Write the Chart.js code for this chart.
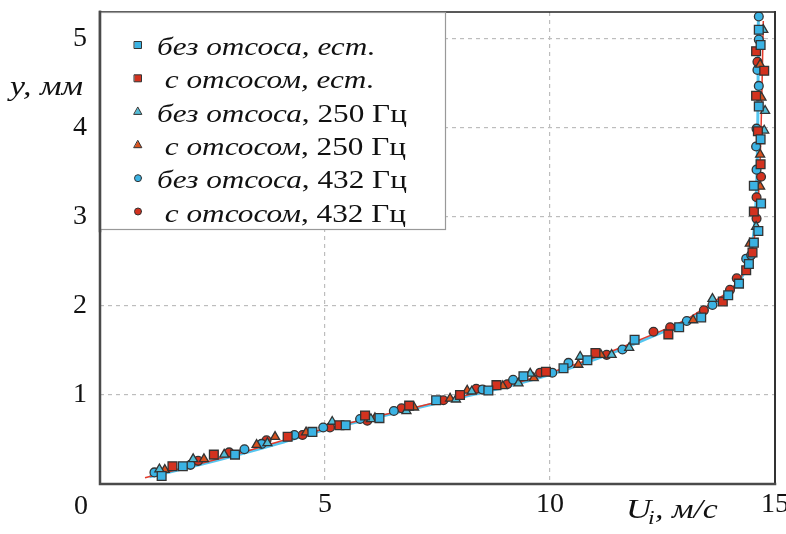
<!DOCTYPE html>
<html>
<head>
<meta charset="utf-8">
<script src="https://cdn.jsdelivr.net/npm/chart.js@4/dist/chart.umd.min.js"></script>
<style>
  body { margin: 0; background: #fff; }
  canvas { display: block; }
</style>
</head>
<body>
<canvas id="profileChart" width="786" height="534"></canvas>
<script>
// Профиль скорости: U (м/с) по оси x, y (мм) по оси y

const seriesLabels = [
  [['без отсоса, ест.', true]],
  [[' с отсосом, ест.', true]],
  [['без отсоса', true], [', 250 Гц', false]],
  [[' с отсосом', true], [', 250 Гц', false]],
  [['без отсоса', true], [', 432 Гц', false]],
  [[' с отсосом', true], [', 432 Гц', false]]
];

const xTicks = [0, 5, 10, 15];
const yTicks = [0, 1, 2, 3, 4, 5];

// без отсоса, естественный
const bezEstU = [1.37, 1.84, 3.0, 4.72, 5.46, 6.21, 7.47, 8.63, 9.41, 10.3, 10.83, 11.88, 12.87, 13.36, 13.96, 14.2, 14.42, 14.53, 14.63, 14.69, 14.53, 14.68, 14.64, 14.68, 14.64];
const bezEstY = [0.09, 0.2, 0.33, 0.585, 0.66, 0.74, 0.94, 1.05, 1.21, 1.3, 1.39, 1.62, 1.76, 1.87, 2.12, 2.25, 2.47, 2.71, 2.84, 3.15, 3.35, 3.87, 4.24, 4.93, 5.1];

// с отсосом, естественный
const sEstU = [1.61, 2.53, 4.17, 5.32, 5.89, 6.87, 8.0, 8.81, 9.91, 11.01, 12.63, 13.84, 14.36, 14.5, 14.53, 14.68, 14.62, 14.58, 14.76, 14.58];
const sEstY = [0.2, 0.33, 0.53, 0.66, 0.77, 0.88, 1.0, 1.11, 1.26, 1.47, 1.68, 2.05, 2.4, 2.6, 3.06, 3.59, 3.96, 4.36, 4.64, 4.86];

// без отсоса, 250 Гц
const bez250U = [1.32, 2.07, 2.76, 3.72, 5.16, 6.02, 6.81, 7.91, 8.26, 9.3, 9.56, 10.67, 11.37, 11.76, 13.61, 14.58, 14.76, 14.78, 14.74];
const bez250Y = [0.166, 0.28, 0.33, 0.46, 0.7, 0.73, 0.82, 0.95, 1.04, 1.13, 1.24, 1.43, 1.45, 1.53, 2.08, 2.89, 3.97, 4.19, 5.1];

// с отсосом, 250 Гц
const s250U = [1.44, 2.31, 3.48, 3.89, 4.58, 6.11, 6.98, 7.78, 8.16, 8.95, 9.64, 10.63, 11.13, 13.18, 14.44, 14.67, 14.67, 14.7, 14.67];
const s250Y = [0.16, 0.28, 0.44, 0.53, 0.58, 0.74, 0.86, 0.96, 1.05, 1.1, 1.19, 1.34, 1.45, 1.84, 2.7, 3.34, 3.7, 4.34, 4.71];

// без отсоса, 432 Гц
const bez432U = [1.21, 2.01, 3.21, 3.59, 4.32, 4.96, 5.78, 6.53, 8.5, 9.18, 10.05, 10.41, 11.61, 13.04, 13.61, 14.36, 14.47, 14.59, 14.58, 14.59, 14.64, 14.61, 14.64, 14.64];
const bez432Y = [0.13, 0.215, 0.39, 0.45, 0.55, 0.635, 0.73, 0.82, 1.06, 1.17, 1.25, 1.36, 1.51, 1.83, 2.01, 2.53, 2.57, 3.53, 3.79, 3.99, 4.47, 4.65, 4.99, 5.25];

// с отсосом, 432 Гц
const s432U = [2.18, 2.87, 3.7, 4.5, 5.11, 5.94, 6.7, 7.63, 8.36, 9.05, 9.78, 11.26, 12.3, 12.67, 13.42, 14.0, 14.15, 14.59, 14.59, 14.69, 14.61];
const s432Y = [0.26, 0.355, 0.49, 0.55, 0.635, 0.71, 0.85, 0.94, 1.07, 1.12, 1.25, 1.45, 1.71, 1.76, 1.95, 2.18, 2.31, 2.98, 3.22, 3.45, 4.74];

// аппроксимирующие кривые
const fitBlueU = [1.1, 2.0, 3.0, 4.0, 5.0, 6.0, 7.0, 8.0, 9.0, 10.0, 11.0, 12.0, 13.0, 13.5, 14.0, 14.3, 14.48, 14.56, 14.6, 14.62, 14.63];
const fitBlueY = [0.08, 0.19, 0.32, 0.46, 0.61, 0.73, 0.85, 0.97, 1.09, 1.23, 1.4, 1.6, 1.82, 1.97, 2.16, 2.36, 2.65, 3.0, 3.5, 4.2, 5.2];
const fitRedU = [1.0, 2.0, 3.0, 4.0, 5.0, 6.0, 7.0, 8.0, 9.0, 10.0, 11.0, 12.0, 13.0, 13.5, 14.0, 14.3, 14.5, 14.6, 14.66, 14.7, 14.74];
const fitRedY = [0.07, 0.2, 0.33, 0.48, 0.62, 0.74, 0.86, 0.98, 1.1, 1.25, 1.42, 1.62, 1.84, 2.0, 2.18, 2.37, 2.65, 3.0, 3.5, 4.2, 5.2];

const blueFill = '#3bb3e4';
const redFill = '#d3321f';
const blueTri = '#52bcd6';
const redTri = '#d9521e';
const edge = '#333333';

const toPts = (xs, ys) => xs.map((x, i) => ({ x: x, y: ys[i] }));

const markers = [
  { data: toPts(bezEstU, bezEstY), style: 'rect', fill: blueFill, r: 6.2 },
  { data: toPts(sEstU, sEstY), style: 'rect', fill: redFill, r: 6.2 },
  { data: toPts(bez250U, bez250Y), style: 'triangle', fill: blueTri, r: 5.2 },
  { data: toPts(s250U, s250Y), style: 'triangle', fill: redTri, r: 5.2 },
  { data: toPts(bez432U, bez432Y), style: 'circle', fill: blueFill, r: 4.4 },
  { data: toPts(s432U, s432Y), style: 'circle', fill: redFill, r: 4.4 }
];

const datasets = markers.map(m => ({
  data: m.data,
  pointStyle: m.style,
  pointRadius: m.r,
  pointBackgroundColor: m.fill,
  pointBorderColor: edge,
  pointBorderWidth: 1.3,
  showLine: false,
  order: 0
}));

datasets.push({
  data: toPts(fitBlueU, fitBlueY),
  showLine: true,
  borderColor: '#55c6f0',
  borderWidth: 3,
  pointRadius: 0,
  tension: 0.35,
  order: 2
});
datasets.push({
  data: toPts(fitRedU, fitRedY),
  showLine: true,
  borderColor: '#e33a2a',
  borderWidth: 1.5,
  pointRadius: 0,
  tension: 0.35,
  order: 1
});

const serif = "'Liberation Serif', Tinos, 'Times New Roman', serif";
const stretch = 1.25;

function drawMarker(ctx, style, x, y, s) {
  ctx.beginPath();
  if (style === 'rect') {
    ctx.rect(x - s / 2, y - s / 2, s, s);
  } else if (style === 'triangle') {
    ctx.moveTo(x, y - s * 0.6);
    ctx.lineTo(x + s * 0.55, y + s * 0.4);
    ctx.lineTo(x - s * 0.55, y + s * 0.4);
    ctx.closePath();
  } else {
    ctx.arc(x, y, s / 2, 0, Math.PI * 2);
  }
  ctx.fill();
  ctx.stroke();
}

function drawParts(ctx, x, y, parts, size) {
  ctx.save();
  ctx.translate(x, y);
  ctx.scale(stretch, 1);
  ctx.textBaseline = 'alphabetic';
  ctx.textAlign = 'left';
  ctx.fillStyle = '#111';
  let cx = 0;
  parts.forEach(p => {
    ctx.font = (p[1] ? 'italic ' : '') + size + 'px ' + serif;
    ctx.fillText(p[0], cx, 0);
    cx += ctx.measureText(p[0]).width;
  });
  ctx.restore();
}

const decor = {
  id: 'decor',
  afterDraw(chart) {
    const ctx = chart.ctx;
    const a = chart.chartArea;

    // рамка
    ctx.save();
    ctx.lineCap = 'square';
    ctx.strokeStyle = '#222';
    ctx.lineWidth = 1.5;
    ctx.beginPath();
    ctx.moveTo(a.left, a.top);
    ctx.lineTo(a.right, a.top);
    ctx.stroke();
    ctx.strokeStyle = '#333';
    ctx.lineWidth = 2;
    ctx.beginPath();
    ctx.moveTo(a.right, a.top);
    ctx.lineTo(a.right, a.bottom);
    ctx.stroke();
    ctx.strokeStyle = '#4a4a4a';
    ctx.lineWidth = 2.5;
    ctx.beginPath();
    ctx.moveTo(a.left, a.top);
    ctx.lineTo(a.left, a.bottom);
    ctx.lineTo(a.right, a.bottom);
    ctx.stroke();

    // легенда
    const bx = a.left, by = a.top, bw = 345, bh = 217;
    ctx.fillStyle = '#fff';
    ctx.fillRect(bx, by, bw, bh);
    ctx.strokeStyle = '#999';
    ctx.lineWidth = 1.2;
    ctx.strokeRect(bx + 0.5, by + 0.5, bw, bh);
    ctx.strokeStyle = '#4a4a4a';
    ctx.lineWidth = 2.5;
    ctx.beginPath();
    ctx.moveTo(a.left, a.top);
    ctx.lineTo(a.left, a.top + bh + 2);
    ctx.stroke();

    seriesLabels.forEach((parts, i) => {
      const base = by + 43 + i * 33.3;
      ctx.fillStyle = markers[i].fill;
      ctx.strokeStyle = edge;
      ctx.lineWidth = 1;
      drawMarker(ctx, markers[i].style, bx + 38, base - 10, 7);
      drawParts(ctx, bx + 57, base, parts, 25);
    });

    // подписи осей и общий ноль
    ctx.fillStyle = '#111';
    ctx.font = '28px ' + serif;
    ctx.textAlign = 'center';
    ctx.textBaseline = 'middle';
    ctx.fillText('0', a.left - 19, a.bottom + 23);

    drawParts(ctx, 10, 95, [['y, мм', true]], 27);
    drawParts(ctx, 626, 518, [['U', true]], 28);
    drawParts(ctx, 648, 524, [['i', true]], 19);
    drawParts(ctx, 655, 518, [[', м/с', true]], 27);
    ctx.restore();
  }
};

function build() {
  new Chart(document.getElementById('profileChart'), {
    type: 'scatter',
    data: { datasets: datasets },
    options: {
      responsive: false,
      animation: false,
      devicePixelRatio: 1,
      layout: { padding: { top: 12, right: 11, left: 0, bottom: 0 } },
      plugins: {
        legend: { display: false },
        tooltip: { enabled: false }
      },
      scales: {
        x: {
          type: 'linear',
          min: 0,
          max: 15,
          afterBuildTicks: scale => { scale.ticks = xTicks.map(v => ({ value: v })); },
          ticks: {
            callback: v => (v === 0 ? '' : v),
            font: { family: serif, size: 28 },
            color: '#111',
            padding: 4,
            maxRotation: 0
          },
          grid: { color: '#bdbdbd', lineWidth: 1.2, drawTicks: false },
          border: { display: false, dash: [4, 4] },
          afterFit: scale => {
            scale.height = 50;
            scale.paddingLeft = 0;
            scale.paddingRight = 0;
          }
        },
        y: {
          type: 'linear',
          min: 0,
          max: 5.3,
          afterBuildTicks: scale => { scale.ticks = yTicks.map(v => ({ value: v })); },
          ticks: {
            callback: v => (v === 0 ? '' : v),
            font: { family: serif, size: 28 },
            color: '#111',
            padding: 13
          },
          grid: { color: '#bdbdbd', lineWidth: 1.2, drawTicks: false },
          border: { display: false, dash: [4, 4] },
          afterFit: scale => {
            scale.width = 100;
            scale.paddingTop = 0;
            scale.paddingBottom = 0;
          }
        }
      }
    },
    plugins: [decor]
  });
}

// дождаться шрифтов, затем рисовать
Promise.all([
  document.fonts.load("28px 'Liberation Serif'", 'бUм0'),
  document.fonts.load("italic 28px 'Liberation Serif'", 'бUм0')
]).then(build, build);
</script>
</body>
</html>
